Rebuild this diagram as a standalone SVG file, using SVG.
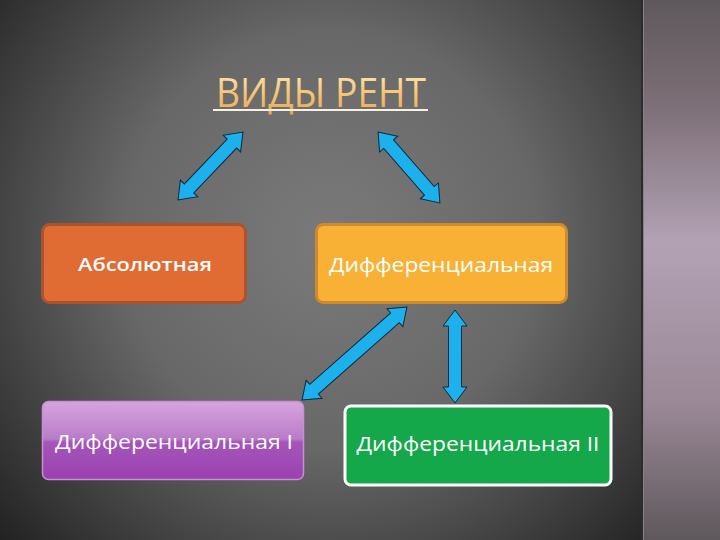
<svg xmlns="http://www.w3.org/2000/svg" width="720" height="540" viewBox="0 0 720 540">
<defs>
<radialGradient id="bg" cx="330" cy="240" r="460" gradientUnits="userSpaceOnUse">
<stop offset="0" stop-color="#7a7a7a"/>
<stop offset="0.45" stop-color="#686868"/>
<stop offset="0.75" stop-color="#404040"/>
<stop offset="1" stop-color="#1e1e1e"/>
</radialGradient>
<linearGradient id="strip" x1="0" y1="0" x2="0" y2="1">
<stop offset="0" stop-color="#5e585c"/>
<stop offset="0.2" stop-color="#7e7078"/>
<stop offset="0.45" stop-color="#b2a2b4"/>
<stop offset="0.75" stop-color="#9a8896"/>
<stop offset="1" stop-color="#5e585c"/>
</linearGradient>
<linearGradient id="title" x1="0" y1="0" x2="0" y2="1">
<stop offset="0" stop-color="#fff4c8"/>
<stop offset="0.5" stop-color="#f6c878"/>
<stop offset="1" stop-color="#e8a048"/>
</linearGradient>
<linearGradient id="purple" x1="0" y1="0" x2="0" y2="1">
<stop offset="0" stop-color="#d6a4de"/>
<stop offset="0.48" stop-color="#b97cc8"/>
<stop offset="0.52" stop-color="#a555bb"/>
<stop offset="1" stop-color="#9a42b0"/>
</linearGradient>
<style>
.lbl{font-family:"Open Sans","DejaVu Sans",sans-serif;fill:#ffffff;text-anchor:middle}
.arr{fill:#1cb0ec;stroke:#0c2a3c;stroke-width:1;stroke-linejoin:miter}
</style>
</defs>
<rect x="0" y="0" width="720" height="540" fill="url(#bg)"/>
<rect x="641" y="0" width="79" height="540" fill="url(#strip)"/>
<rect x="641" y="0" width="2" height="540" fill="#2c2c2c"/>
<rect x="643" y="0" width="1" height="540" fill="#8a8088"/>

<g id="title-g">
<text x="321" y="107" font-family="Open Sans, DejaVu Sans, sans-serif" font-size="40" fill="url(#title)" text-anchor="middle" textLength="210" lengthAdjust="spacingAndGlyphs">ВИДЫ РЕНТ</text>
<rect x="213" y="109" width="215" height="2" fill="#f8f0e0"/>
</g>

<g id="connectors">
<polygon class="arr" transform="translate(210.5 166) rotate(-46.3)" points="-47,0 -31,-12 -31,-6.5 31,-6.5 31,-12 47,0 31,12 31,6.5 -31,6.5 -31,12"/>
<polygon class="arr" transform="translate(409 167.5) rotate(48.9)" points="-47,0 -31,-12 -31,-6.5 31,-6.5 31,-12 47,0 31,12 31,6.5 -31,6.5 -31,12"/>
<polygon class="arr" transform="translate(354.5 353.5) rotate(-41.5)" points="-70,0 -54,-12 -54,-6.5 54,-6.5 54,-12 70,0 54,12 54,6.5 -54,6.5 -54,12"/>
<polygon class="arr" transform="translate(455 356.5) rotate(90)" points="-46.5,0 -30.5,-12 -30.5,-6.5 30.5,-6.5 30.5,-12 46.5,0 30.5,12 30.5,6.5 -30.5,6.5 -30.5,12"/>
</g>

<g id="absolute">
<rect x="42.5" y="224.5" width="203" height="78" rx="7" fill="#e06c33" stroke="#a9542c" stroke-width="3"/>
<text class="lbl" x="145" y="271" font-size="18" font-weight="600" textLength="134" lengthAdjust="spacingAndGlyphs">Абсолютная</text>
</g>

<g id="differential">
<rect x="316.5" y="224.5" width="250" height="78" rx="7" fill="#f8b134" stroke="#d08a2c" stroke-width="3"/>
<text class="lbl" x="441" y="272" font-size="20" textLength="224" lengthAdjust="spacingAndGlyphs">Дифференциальная</text>
</g>

<g id="differential-1">
<rect x="42.5" y="401.5" width="261" height="78" rx="6" fill="url(#purple)" stroke="#c890d4" stroke-width="1.5"/>
<text class="lbl" x="174" y="449" font-size="20" textLength="238" lengthAdjust="spacingAndGlyphs">Дифференциальная I</text>
</g>

<g id="differential-2">
<rect x="345" y="406" width="266" height="79" rx="6" fill="#15a84b" stroke="#ffffff" stroke-width="3"/>
<text class="lbl" x="478" y="451" font-size="20" textLength="243" lengthAdjust="spacingAndGlyphs">Дифференциальная II</text>
</g>
</svg>
